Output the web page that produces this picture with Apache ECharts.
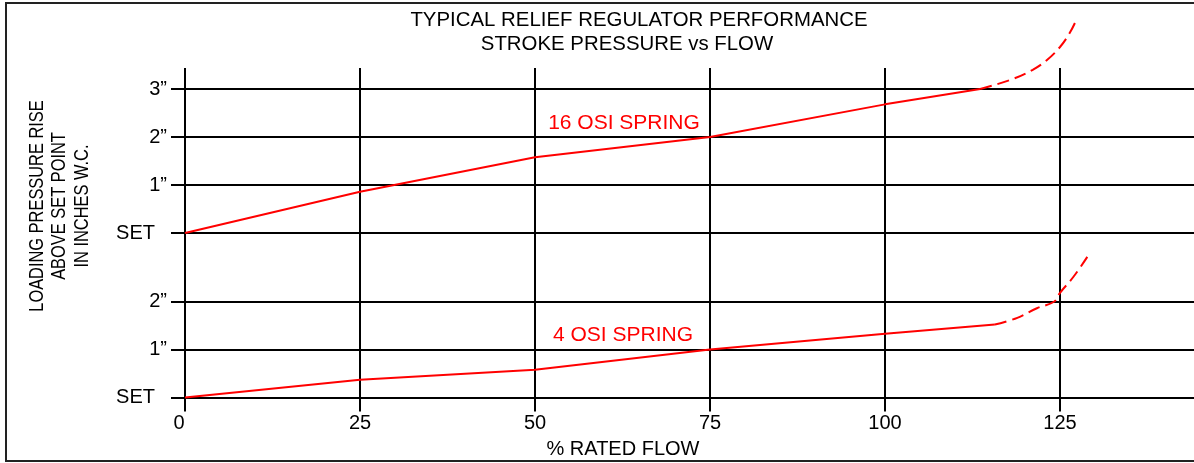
<!DOCTYPE html>
<html>
<head>
<meta charset="utf-8">
<script src="https://cdn.jsdelivr.net/npm/echarts@6/dist/echarts.min.js"></script>
<style>
html,body{margin:0;padding:0;background:#fff;}
#chart{width:1194px;height:463px;}
</style>
</head>
<body>
<div id="chart"></div>
<script>
const titleLines = ['TYPICAL RELIEF REGULATOR PERFORMANCE', 'STROKE PRESSURE vs FLOW'];
const yAxisTitle = ['LOADING PRESSURE RISE', 'ABOVE SET POINT', 'IN INCHES W.C.'];
const xAxisTitle = '% RATED FLOW';
const flowTicks = [0, 25, 50, 75, 100, 125];
const topRiseLabels = ['SET', '1”', '2”', '3”'];
const bottomRiseLabels = ['SET', '1”', '2”'];
const osi16Name = '16 OSI SPRING';
const osi4Name = '4 OSI SPRING';
const osi16Flow = [0, 25, 50, 75, 100, 113.6];
const osi16Rise = [0, 0.86, 1.58, 2.0, 2.68, 3.0];
const osi16ExtFlow = [113.6, 117.9, 121.1, 123.1, 125, 126.4, 127.4];
const osi16ExtRise = [3.0, 3.19, 3.40, 3.60, 3.875, 4.17, 4.46];
const osi4Flow = [0, 25, 50, 75, 100, 115.7];
const osi4Rise = [0, 0.37, 0.58, 1.0, 1.33, 1.52];
const osi4ExtFlow = [115.7, 118.9, 121.7, 124.2, 125, 126.9, 128.9];
const osi4ExtRise = [1.52, 1.66, 1.86, 2.0, 2.18, 2.51, 2.93];

const FONT = 'Liberation Sans';
const pair = (xs, ys) => xs.map((x, i) => [x, ys[i]]);
const chart = echarts.init(document.getElementById('chart'), null, {renderer: 'canvas'});

const gridLine = {color: '#000', width: 2};

function yLabels(labels) {
  return {
    show: true,
    margin: 18,
    color: '#000', fontFamily: FONT, fontSize: 20,
    formatter: v => {
      const t = labels[Math.round(v)];
      if (t === undefined) return '';
      return t === 'SET' ? '{s|' + t + '}' : t;
    },
    rich: {s: {padding: [0, 12, 0, 0], color: '#000', fontFamily: FONT, fontSize: 20}}
  };
}

const option = {
  animation: false,
  backgroundColor: '#fff',
  grid: [
    {left: 185, width: 1015, top: 68, bottom: 65.5, outerBoundsMode: 'none', containLabel: false},
    {left: 185, width: 1015, top: 89, height: 144, outerBoundsMode: 'none', containLabel: false},
    {left: 185, width: 1015, top: 301.5, height: 96, outerBoundsMode: 'none', containLabel: false}
  ],
  xAxis: [
    {
      gridIndex: 0, type: 'value', min: 0, max: 145, interval: 25,
      axisLine: {show: false},
      axisTick: {show: true, length: 14, lineStyle: gridLine},
      splitLine: {show: true, lineStyle: gridLine},
      axisLabel: {
        show: true, margin: 16, color: '#000', fontFamily: FONT, fontSize: 20,
        formatter: v => {
          if (flowTicks.indexOf(v) < 0) return '';
          return v === 0 ? '{z|0}' : String(v);
        },
        rich: {z: {padding: [0, 12, 0, 0], color: '#000', fontFamily: FONT, fontSize: 20}}
      }
    },
    {gridIndex: 1, type: 'value', min: 0, max: 145, show: false},
    {gridIndex: 2, type: 'value', min: 0, max: 145, show: false}
  ],
  yAxis: [
    {gridIndex: 0, type: 'value', min: 0, max: 1, show: false},
    {
      gridIndex: 1, type: 'value', min: 0, max: 3, interval: 1,
      axisLine: {show: false},
      axisTick: {show: true, length: 14, lineStyle: gridLine},
      splitLine: {show: true, lineStyle: gridLine},
      axisLabel: yLabels(topRiseLabels)
    },
    {
      gridIndex: 2, type: 'value', min: 0, max: 2, interval: 1,
      axisLine: {show: false},
      axisTick: {show: true, length: 14, lineStyle: gridLine},
      splitLine: {show: true, lineStyle: gridLine},
      axisLabel: yLabels(bottomRiseLabels)
    }
  ],
  series: [
    {
      name: osi16Name, type: 'line', xAxisIndex: 1, yAxisIndex: 1,
      data: pair(osi16Flow, osi16Rise), showSymbol: false, clip: false,
      lineStyle: {color: '#ff0000', width: 2}, z: 5
    },
    {
      name: osi16Name + ' ext', type: 'line', xAxisIndex: 1, yAxisIndex: 1,
      data: pair(osi16ExtFlow, osi16ExtRise), showSymbol: false, clip: false, smooth: 0.4,
      lineStyle: {color: '#ff0000', width: 2, type: [12, 6]}, z: 5
    },
    {
      name: osi4Name, type: 'line', xAxisIndex: 2, yAxisIndex: 2,
      data: pair(osi4Flow, osi4Rise), showSymbol: false, clip: false,
      lineStyle: {color: '#ff0000', width: 2}, z: 5
    },
    {
      name: osi4Name + ' ext', type: 'line', xAxisIndex: 2, yAxisIndex: 2,
      data: pair(osi4ExtFlow, osi4ExtRise), showSymbol: false, clip: false, smooth: 0.4,
      lineStyle: {color: '#ff0000', width: 2, type: [12, 6]}, z: 5
    }
  ],
  graphic: [
    {type: 'rect', shape: {x: 6, y: 3, width: 1200, height: 458}, style: {fill: 'none', stroke: '#222', lineWidth: 2}, z: 100, silent: true},
    {type: 'text', x: 639, y: 20, scaleX: 1.02, style: {text: titleLines[0], font: '20px "Liberation Sans"', fill: '#000', textAlign: 'center', textVerticalAlign: 'middle'}},
    {type: 'text', x: 627, y: 44, scaleX: 1.02, style: {text: titleLines[1], font: '20px "Liberation Sans"', fill: '#000', textAlign: 'center', textVerticalAlign: 'middle'}},
    {type: 'text', x: 59.5, y: 206, rotation: Math.PI / 2, scaleX: 0.82, style: {text: yAxisTitle.join('\n'), font: '20px "Liberation Sans"', lineHeight: 22.5, fill: '#000', textAlign: 'center', textVerticalAlign: 'middle'}},
    {type: 'text', x: 623, y: 449, style: {text: xAxisTitle, font: '20px "Liberation Sans"', fill: '#000', textAlign: 'center', textVerticalAlign: 'middle'}},
    {type: 'text', x: 624, y: 123, style: {text: osi16Name, font: '21px "Liberation Sans"', fill: '#ff0000', textAlign: 'center', textVerticalAlign: 'middle'}},
    {type: 'text', x: 623, y: 335, style: {text: osi4Name, font: '21px "Liberation Sans"', fill: '#ff0000', textAlign: 'center', textVerticalAlign: 'middle'}}
  ]
};
chart.setOption(option);
</script>
</body>
</html>
